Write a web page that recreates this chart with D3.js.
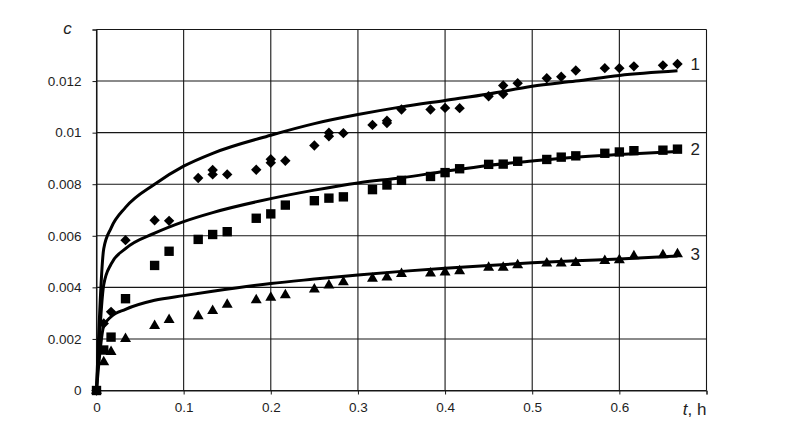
<!DOCTYPE html>
<html>
<head>
<meta charset="utf-8">
<script src="https://cdn.jsdelivr.net/npm/d3@7"></script>
<style>
  body { margin: 0; background: #fff; }
  svg { display: block; font-family: "Liberation Sans", Arial, sans-serif; }
</style>
</head>
<body>
<div id="chart"></div>
<script>
// Axis ticks
var xTicks = [0, 0.1, 0.2, 0.3, 0.4, 0.5, 0.6, 0.7];
var xTickLabels = ["0", "0.1", "0.2", "0.3", "0.4", "0.5", "0.6", ""];
var yTicks = [0, 0.002, 0.004, 0.006, 0.008, 0.01, 0.012, 0.014];
var yTickLabels = ["0", "0.002", "0.004", "0.006", "0.008", "0.01", "0.012", ""];

// Measured points (t in h, c)
var t1 = [0, 0.0083, 0.0167, 0.0333, 0.0667, 0.0833, 0.1167, 0.1333, 0.1333, 0.15, 0.1833, 0.2, 0.2, 0.2167,
          0.25, 0.2667, 0.2667, 0.2833, 0.3167, 0.3333, 0.3333, 0.35, 0.3833, 0.4, 0.4167, 0.45, 0.4667, 0.4667,
          0.4833, 0.5167, 0.5333, 0.55, 0.5833, 0.6, 0.6167, 0.65, 0.6667];
var c1 = [0, 0.0026, 0.00305, 0.00583, 0.0066, 0.00658, 0.00824, 0.00855, 0.00838, 0.00838, 0.00856, 0.00897, 0.00883, 0.00891,
          0.0095, 0.01, 0.00986, 0.00998, 0.0103, 0.01046, 0.01037, 0.0109, 0.0109, 0.01096, 0.01095, 0.01141, 0.01183, 0.0115,
          0.01192, 0.01211, 0.01217, 0.01241, 0.0125, 0.0125, 0.01257, 0.01261, 0.01266];

var t23 = [0, 0.0083, 0.0167, 0.0333, 0.0667, 0.0833, 0.1167, 0.1333, 0.15, 0.1833, 0.2, 0.2167, 0.25, 0.2667,
           0.2833, 0.3167, 0.3333, 0.35, 0.3833, 0.4, 0.4167, 0.45, 0.4667, 0.4833, 0.5167, 0.5333, 0.55, 0.5833,
           0.6, 0.6167, 0.65, 0.6667];
var c2 = [0, 0.00157, 0.00207, 0.00356, 0.00485, 0.0054, 0.00586, 0.00605, 0.00616, 0.00668, 0.00685, 0.00719, 0.00736, 0.00746,
          0.00751, 0.00779, 0.00797, 0.00815, 0.0083, 0.00845, 0.0086, 0.00877, 0.00878, 0.00889, 0.00896, 0.00905, 0.0091, 0.0092,
          0.00925, 0.0093, 0.00932, 0.00936];
var c3 = [0, 0.0011, 0.0015, 0.002, 0.00251, 0.00274, 0.00289, 0.00309, 0.00333, 0.00351, 0.0036, 0.0037, 0.00392, 0.00408,
          0.0042, 0.00434, 0.00439, 0.00452, 0.00454, 0.00458, 0.00463, 0.00477, 0.00477, 0.00486, 0.00493, 0.00493, 0.00495, 0.00503,
          0.00506, 0.00521, 0.00525, 0.00529];

// Calculated curves
var tFit = [0, 0.0083, 0.0167, 0.0333, 0.0667, 0.1, 0.1333, 0.2, 0.25, 0.3, 0.35, 0.4, 0.45, 0.5, 0.55, 0.6, 0.6667];
var fit1 = [0, 0.0055, 0.0063, 0.0071, 0.008, 0.0087, 0.0092, 0.0099, 0.01035, 0.0107, 0.011, 0.01125, 0.0115, 0.0118, 0.012, 0.01222, 0.0124];
var fit2 = [0, 0.0041, 0.0049, 0.0055, 0.0061, 0.00655, 0.0069, 0.00744, 0.00777, 0.00805, 0.00825, 0.0085, 0.00873, 0.0089, 0.00905, 0.00915, 0.00927];
var fit3 = [0, 0.0025, 0.00286, 0.00315, 0.0035, 0.00368, 0.00385, 0.00415, 0.00432, 0.00448, 0.00462, 0.00474, 0.00485, 0.00495, 0.00503, 0.0051, 0.00522];

var curveNames = ["1", "2", "3"];

var width = 807, height = 427;
var svg = d3.select("#chart").append("svg").attr("width", width).attr("height", height);

var x = d3.scaleLinear().domain([0, 0.7]).range([96.5, 706.5]);
var y = d3.scaleLinear().domain([0, 0.014]).range([390.5, 29.5]);

var ink = "#161616";

// Grid
var gridG = svg.append("g").attr("class", "grid");
gridG.selectAll(".vgrid").data(xTicks).enter().append("line")
    .attr("x1", function(d) { return x(d); }).attr("x2", function(d) { return x(d); })
    .attr("y1", y(0)).attr("y2", y(0.014))
    .attr("stroke", ink).attr("stroke-width", 1.1);
gridG.selectAll(".hgrid").data(yTicks).enter().append("line")
    .attr("y1", function(d) { return y(d); }).attr("y2", function(d) { return y(d); })
    .attr("x1", x(0)).attr("x2", x(0.7))
    .attr("stroke", ink).attr("stroke-width", 1.1);

// Axes
var xAxis = d3.axisBottom(x).tickValues(xTicks).tickSize(4).tickPadding(8)
    .tickFormat(function(d, i) { return xTickLabels[i]; });
var yAxis = d3.axisLeft(y).tickValues(yTicks).tickSize(4).tickPadding(11)
    .tickFormat(function(d, i) { return yTickLabels[i]; });

var xg = svg.append("g").attr("transform", "translate(0," + y(0) + ")").call(xAxis);
var yg = svg.append("g").attr("transform", "translate(" + x(0) + ",0)").call(yAxis);
[xg, yg].forEach(function(g) {
    g.select(".domain").attr("stroke", ink);
    g.selectAll(".tick line").attr("stroke", ink);
    g.selectAll(".tick text").attr("font-size", "13.5px").attr("fill", "#1e1e1e")
        .attr("font-family", "'Liberation Sans', Arial, sans-serif");
});

// Axis titles
svg.append("text").attr("x", 67.5).attr("y", 34).attr("text-anchor", "middle")
    .attr("font-size", "17px").attr("font-style", "italic").attr("fill", "#1e1e1e").text("c");
var tLabel = svg.append("text").attr("x", x(0.7)).attr("y", 415).attr("text-anchor", "end")
    .attr("font-size", "17px").attr("fill", "#1e1e1e");
tLabel.append("tspan").attr("font-style", "italic").text("t");
tLabel.append("tspan").text(", h");

// Curves
var line = d3.line()
    .x(function(d) { return x(d[0]); })
    .y(function(d) { return y(d[1]); })
    .curve(d3.curveMonotoneX);

[fit1, fit2, fit3].forEach(function(fit) {
    svg.append("path")
        .datum(d3.zip(tFit, fit))
        .attr("d", line)
        .attr("fill", "none")
        .attr("stroke", "#000")
        .attr("stroke-width", 3)
        .attr("stroke-linejoin", "round");
});

// Markers
var diamond = {
    draw: function(context, size) {
        var r = Math.sqrt(size / 2);
        context.moveTo(0, -r);
        context.lineTo(r, 0);
        context.lineTo(0, r);
        context.lineTo(-r, 0);
        context.closePath();
    }
};

function drawPoints(ts, cs, type, size) {
    svg.append("g").selectAll("path")
        .data(d3.zip(ts, cs))
        .enter().append("path")
        .attr("d", d3.symbol().type(type).size(size))
        .attr("transform", function(d) { return "translate(" + x(d[0]) + "," + y(d[1]) + ")"; })
        .attr("fill", "#000");
}

drawPoints(t1, c1, diamond, 54);
drawPoints(t23, c2, d3.symbolSquare, 88);
drawPoints(t23, c3, d3.symbolTriangle, 52);

// Curve numbers
var lastPts = [[t1[t1.length - 1], c1[c1.length - 1]],
               [t23[t23.length - 1], c2[c2.length - 1]],
               [t23[t23.length - 1], c3[c3.length - 1]]];
svg.selectAll(".curveName").data(curveNames).enter().append("text")
    .attr("class", "curveName")
    .attr("x", function(d, i) { return x(lastPts[i][0]) + 13; })
    .attr("y", function(d, i) { return y(lastPts[i][1]) + 6; })
    .attr("font-size", "17px")
    .attr("fill", "#1e1e1e")
    .text(function(d) { return d; });
</script>
</body>
</html>
